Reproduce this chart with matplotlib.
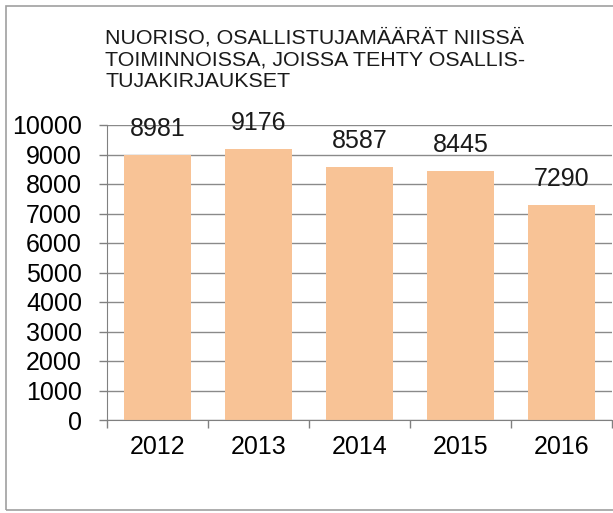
import matplotlib
matplotlib.use("Agg")
import matplotlib.pyplot as plt
from matplotlib.patches import Rectangle

years = ["2012", "2013", "2014", "2015", "2016"]
values = [8981, 9176, 8587, 8445, 7290]
yticks = [0, 1000, 2000, 3000, 4000, 5000, 6000, 7000, 8000, 9000, 10000]
title = "NUORISO, OSALLISTUJAMÄÄRÄT NIISSÄ\nTOIMINNOISSA, JOISSA TEHTY OSALLIS-\nTUJAKIRJAUKSET"

plt.rcParams['font.family'] = ['Liberation Sans', 'DejaVu Sans']

W, H = 613, 513
fig = plt.figure(figsize=(W/100, H/100), dpi=100)
fig.patch.set_facecolor("white")

# outer frame
fig.add_artist(Rectangle((6/W, 1 - 510/H), 1.2, (510-6)/H, transform=fig.transFigure,
                         fill=False, edgecolor="#a0a0a0", linewidth=1.2))

ax = fig.add_axes([107/W, 1 - 420/H, (612-107)/W, (420-125)/H])
x = list(range(len(years)))
ax.bar(x, values, width=0.66, color="#F8C396", zorder=2)
ax.set_xlim(-0.5, len(years) - 0.5)
ax.set_ylim(0, 10000)
ax.set_yticks(yticks)
ax.set_yticklabels([str(v) for v in yticks], fontsize=18)
ax.set_xticks(x)
ax.set_xticklabels(years, fontsize=18)
ax.tick_params(axis='x', length=0, pad=11)
ax.set_xticks([i - 0.5 for i in range(len(years) + 1)], minor=True)
ax.tick_params(axis='x', which='minor', length=6, color="#808080", width=1)
ax.tick_params(axis='y', length=6, color="#808080", width=1, pad=12)
ax.yaxis.grid(True, color="#8a8a8a", linewidth=1, zorder=1)
ax.set_axisbelow(True)
for s in ["top", "right"]:
    ax.spines[s].set_visible(False)
for s in ["left", "bottom"]:
    ax.spines[s].set_color("#808080")
ax.set_facecolor("none")

for xi, v in zip(x, values):
    ax.annotate(str(v), (xi, v), xytext=(0, 10), textcoords="offset points",
                ha="center", va="bottom", fontsize=18, color="#1a1a1a")

fig.text(105/W, 1 - 28/H, title, ha="left", va="top", fontsize=15.4, linespacing=1.18,
         color="#1a1a1a")

fig.savefig("out.png", dpi=100)
